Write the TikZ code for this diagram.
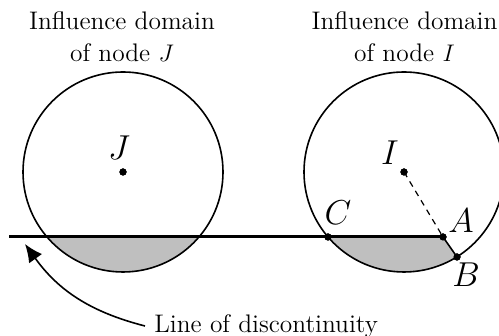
\documentclass[tikz,border=0pt]{standalone}
\usetikzlibrary{arrows.meta}
\begin{document}
\begin{tikzpicture}[x=0.5pt,y=0.5pt,
  thinline/.style={line width=0.8pt},
  shaded/.style={fill=black!25},
  dot/.style={circle,fill=black,inner sep=0pt,minimum size=3.6pt},
  lbl/.style={font=\fontsize{16.5}{19}\selectfont, inner sep=0pt},
  title/.style={align=center, font=\fontsize{12.7}{16}\selectfont, inner sep=0pt},
  disc/.style={line width=1.5pt},
  arr/.style={thinline, -{Latex[length=9pt,width=8pt]}}
]
\useasboundingbox (0,0) rectangle (499,336);

% centres and points
\node[dot] (J) at (123,164) {};
\node[dot] (I) at (404,164) {};
\node[dot] (C) at (328,99) {};
\node[dot] (A) at (443,99) {};
\node[dot] (B) at (457,79) {};
\coordinate (L0) at (9,99);
\coordinate (P1) at (47,99);
\coordinate (P2) at (199,99);
\coordinate (tip) at (25,92);

% shaded parts
\fill[shaded] (P1) -- (P2) arc[start angle=319.5, end angle=220.5, radius=100] -- cycle;
\fill[shaded] (C.center) -- (A.center) -- (B.center) arc[start angle=302, end angle=220.5, radius=100] -- cycle;

% circles
\draw[thinline] (J.center) circle[radius=100];
\draw[thinline] (I.center) circle[radius=100];

% line of discontinuity
\draw[disc] (L0) -- (A.center);
\draw[thinline] (A.center) -- (B.center);
\draw[line width=0.6pt, dash pattern=on 3pt off 2.5pt] (I.center) -- (A.center);

% redraw dots on top
\node[dot] at (J) {};
\node[dot] at (I) {};
\node[dot] at (C) {};
\node[dot] at (A) {};
\node[dot] at (B) {};

% labels
\node[lbl] (lJ) at (119,188) {$J$};
\node[lbl] (lI) at (390,183) {$I$};
\node[lbl] (lC) at (338,123) {$C$};
\node[lbl] (lA) at (461,115) {$A$};
\node[lbl] (lB) at (466,61) {$B$};

% titles
\node[title] (tJ) at (122,299) {Influence domain\\of node $J$};
\node[title] (tI) at (404.5,299) {Influence domain\\of node $I$};

% annotation
\node[anchor=west, inner xsep=4.5pt, inner ysep=0pt, font=\fontsize{12.7}{16}\selectfont] (ld) at (145,10) {Line of discontinuity};
\draw[arr] (ld.west) to[bend left=20] (tip);
\end{tikzpicture}
\end{document}
